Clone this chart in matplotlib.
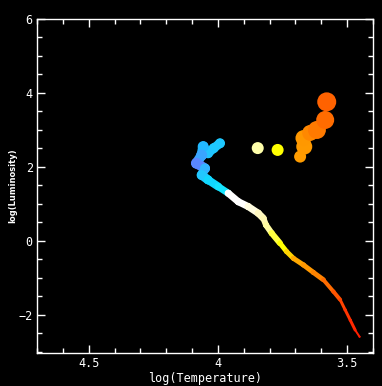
import matplotlib
matplotlib.use("Agg")
import matplotlib.pyplot as plt
import numpy as np
from matplotlib.collections import LineCollection
from matplotlib.ticker import MultipleLocator

# Blue upper cluster (individual stars)
blue_logT = [3.992, 4.016, 4.038, 4.057, 4.063, 4.083, 4.050, 4.063, 4.038]
blue_logL = [2.64, 2.51, 2.37, 2.55, 2.32, 2.10, 1.96, 1.78, 1.65]
blue_diam = [10, 10, 10, 11, 11, 11, 10, 10, 9]
blue_col = ["#1ec8ff", "#1ec8ff", "#22c4ff", "#22b8ff", "#3aa4ff", "#5a86ff",
            "#33b4ff", "#22c8ff", "#10d8ff"]

# Main sequence track
ms_logT = [4.038, 3.999, 3.960, 3.921, 3.883, 3.844, 3.824, 3.814, 3.792, 3.760,
           3.734, 3.708, 3.669, 3.631, 3.592, 3.553, 3.527, 3.508, 3.488, 3.469, 3.452]
ms_logL = [1.65, 1.47, 1.29, 1.06, 0.93, 0.75, 0.61, 0.43, 0.21, -0.06,
           -0.29, -0.47, -0.65, -0.85, -1.05, -1.37, -1.59, -1.86, -2.14, -2.41, -2.59]
ms_width = [8, 7, 7, 7, 7, 7, 6, 6, 6, 5, 5, 5, 5, 5, 4, 4, 3, 3, 3, 2, 2]
ms_col = ["#10d8ff", "#14e4ff", "#ffffff", "#ffffff", "#fffce0", "#fff8c0",
          "#fff8b0", "#fffca0", "#ffff40", "#ffff00", "#ffd400", "#ffa800",
          "#ff9800", "#ff8400", "#ff6c00", "#ff5400", "#ff4200", "#ff3400",
          "#ff2800", "#ff2000", "#ff1800"]

# Giants
g_logT = [3.846, 3.769, 3.682, 3.666, 3.669, 3.643, 3.617, 3.585, 3.579]
g_logL = [2.51, 2.46, 2.28, 2.55, 2.78, 2.92, 3.00, 3.27, 3.76]
g_diam = [12, 12, 12, 16, 16, 16, 18, 18, 19]
g_col = ["#ffffaa", "#ffff00", "#ff9c00", "#ff9a00", "#ff9800", "#ff8800",
         "#ff7a00", "#ff6c00", "#ff6200"]

xticks = [4.5, 4.0, 3.5]
xticklabels = ["4.5", "4", "3.5"]
yticks = [-2, 0, 2, 4, 6]
yticklabels = ["\u22122", "0", "2", "4", "6"]

W, H, DPI = 382, 386, 100
fig = plt.figure(figsize=(W / DPI, H / DPI), dpi=DPI, facecolor="black")
ax = fig.add_axes([37 / W, 1 - 353 / H, 336 / W, 334 / H], facecolor="black")
px2pt = 72 / DPI


def track(xs, ys, widths, cols, z):
    pts = np.column_stack([xs, ys])
    segs = np.stack([pts[:-1], pts[1:]], axis=1)
    lc = LineCollection(segs, colors=cols[:-1],
                        linewidths=[w * px2pt for w in widths[:-1]],
                        capstyle="round", joinstyle="round", zorder=z)
    ax.add_collection(lc)
    ax.scatter(xs, ys, s=[(w * px2pt) ** 2 for w in widths], c=cols,
               linewidths=0, zorder=z + 0.5)


track(ms_logT, ms_logL, ms_width, ms_col, 2)
track(blue_logT, blue_logL, [d - 1 for d in blue_diam], blue_col, 3)
ax.scatter(blue_logT, blue_logL, s=[(d * px2pt) ** 2 for d in blue_diam], c=blue_col,
           linewidths=0, zorder=4)
ax.scatter(g_logT, g_logL, s=[(d * px2pt) ** 2 for d in g_diam], c=g_col,
           linewidths=0, zorder=4)

ax.set_xlim(4.70, 3.40)
ax.set_ylim(-3.03, 6.0)

for sp in ax.spines.values():
    sp.set_color("white")
    sp.set_linewidth(1.0)

ax.set_xticks(xticks)
ax.set_xticklabels(xticklabels)
ax.set_yticks(yticks)
ax.set_yticklabels(yticklabels)
ax.xaxis.set_minor_locator(MultipleLocator(0.1))
ax.yaxis.set_minor_locator(MultipleLocator(0.5))
font = "DejaVu Sans Mono"
ax.tick_params(which="both", direction="in", colors="white", top=True, right=True,
               width=1.0, labelsize=8.5)
ax.tick_params(which="major", length=6, pad=3)
ax.tick_params(which="minor", length=3.5)
for lbl in ax.get_xticklabels() + ax.get_yticklabels():
    lbl.set_fontfamily(font)

ax.set_xlabel("log(Temperature)", color="white", fontsize=8.5, fontfamily=font, labelpad=1)
fig.text(13 / W, 1 - 186 / H, "log(Luminosity)", color="white", fontsize=6,
         fontweight="bold", fontfamily="DejaVu Sans", rotation=90,
         ha="center", va="center")

fig.savefig("out.png", dpi=DPI, facecolor="black")
